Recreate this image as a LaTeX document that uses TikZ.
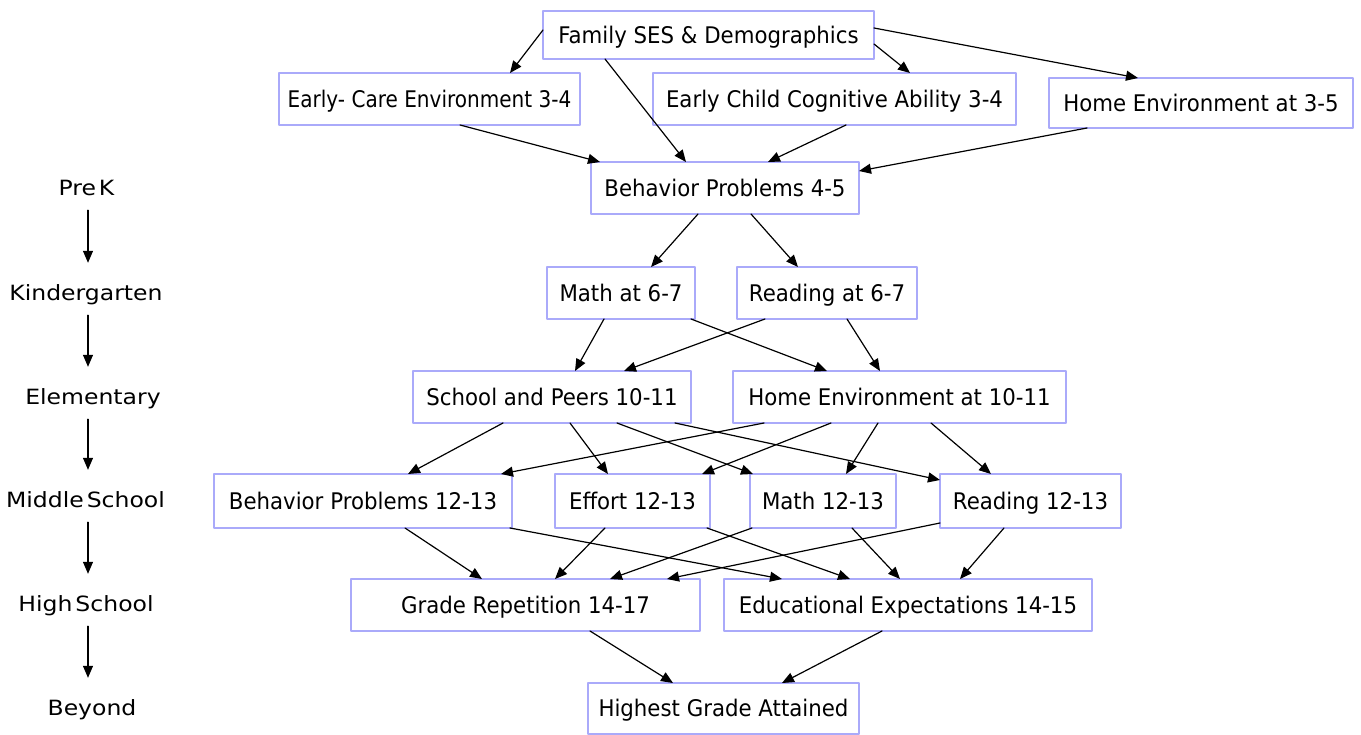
\documentclass[tikz,border=0pt]{standalone}
\usepackage{fontspec}
\setmainfont[FakeStretch=0.93]{DejaVu Sans}
\newfontfamily\narrowfont[FakeStretch=0.875]{DejaVu Sans}
\newfontfamily\levelfont[FakeStretch=1.12, WordSpace=0.4]{DejaVu Sans}
\usetikzlibrary{arrows.meta,calc}
\definecolor{boxline}{RGB}{170,170,250}
\begin{document}
\begin{tikzpicture}[x=1pt, y=-1pt, font=\fontsize{22.9}{26}\selectfont, line join=round, line cap=round,
    >={Triangle[length=12pt,width=10pt]},
    box/.style={draw=boxline, line width=1.2pt, inner sep=0pt, outer sep=0pt, minimum height=52pt, text height=18pt, text depth=1.5pt},
    level/.style={inner sep=0pt, minimum height=44pt, text height=17pt, text depth=1.7pt, font=\levelfont\fontsize{21}{25}\selectfont},
    edge/.style={->, line width=1.2pt}]
    \useasboundingbox (0,0) rectangle (1361,735);
    % stages
    \coordinate (spine) at (88,0);
    \node[level] (prek)   at (86.5,188) {Pre K};
    \node[level] (kinder) at (86,293)   {Kindergarten};
    \node[level] (elem)   at (93,397)   {Elementary};
    \node[level] (middle) at (85.5,500) {Middle School};
    \node[level] (high)   at (86,604)   {High School};
    \node[level] (beyond) at (92,708)   {Beyond};
    \foreach \u/\v in {prek/kinder, kinder/elem, elem/middle, middle/high, high/beyond}
        \draw[edge, shorten >=8pt] (\u.south -| spine) -- (\v.north -| spine);
    % boxes
    \node[box, minimum width=331pt, minimum height=48pt] (fam) at (708.5,35) {Family SES \& Demographics};
    \node[box, minimum width=301pt, font=\narrowfont\fontsize{22.9}{26}\selectfont] (care) at (429.5,99) {Early- Care Environment 3-4};
    \node[box, minimum width=363pt] (cog)      at (834.5,99)  {Early Child Cognitive Ability 3-4};
    \node[box, minimum width=304pt, minimum height=50pt] (home35) at (1201,103) {Home Environment at 3-5};
    \node[box, minimum width=268pt] (bp45)     at (725,188)   {Behavior Problems 4-5};
    \node[box, minimum width=148pt] (math67)   at (621,293)   {Math at 6-7};
    \node[box, minimum width=180pt] (read67)   at (827,293)   {Reading at 6-7};
    \node[box, minimum width=278pt] (peers)    at (552,397)   {School and Peers 10-11};
    \node[box, minimum width=333pt] (home1011) at (899.5,397) {Home Environment at 10-11};
    \node[box, minimum width=298pt, minimum height=54pt] (bp1213)   at (363,501)    {Behavior Problems 12-13};
    \node[box, minimum width=155pt, minimum height=54pt] (effort)   at (632.5,501)  {Effort 12-13};
    \node[box, minimum width=146pt, minimum height=54pt] (math1213) at (823,501)    {Math 12-13};
    \node[box, minimum width=181pt, minimum height=54pt] (read1213) at (1030.5,501) {Reading 12-13};
    \node[box, minimum width=349pt] (grade)    at (525.5,605) {Grade Repetition 14-17};
    \node[box, minimum width=368pt] (expect)   at (908,605)   {Educational Expectations 14-15};
    \node[box, minimum width=271pt, minimum height=51pt] (highest)  at (723.5,708.5) {Highest Grade Attained};
    % top
    \draw[edge] ($(fam.north west)+(0,19)$)   -- ($(care.north west)+(231,0)$);
    \draw[edge] ($(fam.north west)+(331,33)$) -- ($(cog.north west)+(257,0)$);
    \draw[edge] ($(fam.north west)+(331,17)$) -- ($(home35.north west)+(89,0)$);
    \draw[edge] ($(fam.north west)+(62,48)$)  -- ($(bp45.north west)+(95,0)$);
    \draw[edge] ($(care.north west)+(181,52)$)  -- ($(bp45.north west)+(9,0)$);
    \draw[edge] ($(cog.north west)+(193,52)$)   -- ($(bp45.north west)+(177,0)$);
    \draw[edge] ($(home35.north west)+(38,50)$) -- ($(bp45.north west)+(268,9)$);
    \draw[edge] ($(bp45.north west)+(107,52)$) -- ($(math67.north west)+(104,0)$);
    \draw[edge] ($(bp45.north west)+(160,52)$) -- ($(read67.north west)+(61,0)$);
    % 6-7 to 10-11
    \draw[edge] ($(math67.north west)+(57,52)$)  -- ($(peers.north west)+(162,0)$);
    \draw[edge] ($(math67.north west)+(144,52)$) -- ($(home1011.north west)+(94,0)$);
    \draw[edge] ($(read67.north west)+(28,52)$)  -- ($(peers.north west)+(211,0)$);
    \draw[edge] ($(read67.north west)+(110,52)$) -- ($(home1011.north west)+(147,0)$);
    % 10-11 to 12-13
    \draw[edge] ($(peers.north west)+(90,52)$)  -- ($(bp1213.north west)+(194,0)$);
    \draw[edge] ($(peers.north west)+(157,52)$) -- ($(effort.north west)+(53,0)$);
    \draw[edge] ($(peers.north west)+(204,52)$) -- ($(math1213.north west)+(3,0)$);
    \draw[edge] ($(peers.north west)+(262,52)$) -- ($(read1213.north west)+(0,6)$);
    \draw[edge] ($(home1011.north west)+(31,52)$)  -- ($(bp1213.north west)+(287,0)$);
    \draw[edge] ($(home1011.north west)+(98,52)$)  -- ($(effort.north west)+(147,0)$);
    \draw[edge] ($(home1011.north west)+(145,52)$) -- ($(math1213.north west)+(96,0)$);
    \draw[edge] ($(home1011.north west)+(198,52)$) -- ($(read1213.north west)+(51,0)$);
    % 12-13 to 14-17
    \draw[edge] ($(bp1213.north west)+(191,54)$) -- ($(grade.north west)+(131,0)$);
    \draw[edge] ($(bp1213.north west)+(296,54)$) -- ($(expect.north west)+(58,0)$);
    \draw[edge] ($(effort.north west)+(50,54)$)  -- ($(grade.north west)+(204,0)$);
    \draw[edge] ($(effort.north west)+(152,54)$) -- ($(expect.north west)+(126,0)$);
    \draw[edge] ($(math1213.north west)+(2,54)$)   -- ($(grade.north west)+(259,0)$);
    \draw[edge] ($(math1213.north west)+(102,54)$) -- ($(expect.north west)+(176,0)$);
    \draw[edge] ($(read1213.north west)+(0,49)$)  -- ($(grade.north west)+(316,0)$);
    \draw[edge] ($(read1213.north west)+(64,54)$) -- ($(expect.north west)+(236,0)$);
    % bottom
    \draw[edge] ($(grade.north west)+(239,52)$)  -- ($(highest.north west)+(85,0)$);
    \draw[edge] ($(expect.north west)+(158,52)$) -- ($(highest.north west)+(194,0)$);
\end{tikzpicture}
\end{document}
